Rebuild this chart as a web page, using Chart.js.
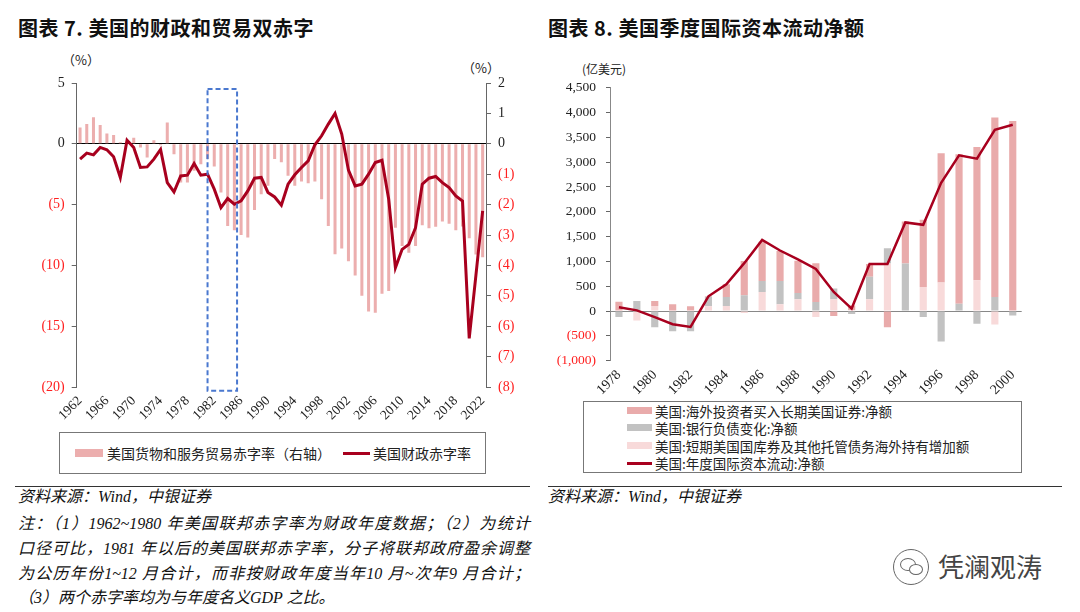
<!DOCTYPE html>
<html><head><meta charset="utf-8">
<script src="https://cdn.jsdelivr.net/npm/chart.js@4.4.1/dist/chart.umd.min.js"></script>
<style>
html,body{margin:0;padding:0;background:#fff;width:1080px;height:612px;overflow:hidden;position:relative;font-family:'Noto Sans CJK SC',sans-serif;color:#111;}
.abs{position:absolute;white-space:nowrap;}
.title{font-size:20px;font-weight:bold;line-height:20px;color:#111;letter-spacing:0.5px;}
.unit{font-size:13px;line-height:14px;color:#222;}
.lbox{position:absolute;border:1px solid #777;box-sizing:border-box;}
.li{position:absolute;white-space:nowrap;font-size:14px;line-height:16px;color:#222;}
.ri{position:absolute;white-space:nowrap;font-size:13.5px;line-height:16px;color:#222;}
.sw{position:absolute;}
.hr{position:absolute;height:1px;background:#333;}
.note{position:absolute;white-space:nowrap;font-size:16px;line-height:18px;font-family:'Liberation Serif','Noto Sans CJK SC',serif;font-style:italic;color:#111;}
.just{text-align:justify;text-align-last:justify;width:512px;}
canvas{position:absolute;}
</style>
</head><body>
<div class="abs title" style="left:18px;top:18px;">图表 7. 美国的财政和贸易双赤字</div>
<div class="abs title" style="left:548px;top:18px;">图表 8. 美国季度国际资本流动净额</div>

<div class="abs unit" style="left:62px;top:53px;">（%）</div>
<div class="abs unit" style="left:462px;top:61px;">（%）</div>
<div class="abs unit" style="left:582px;top:62px;font-size:12px;">(亿美元)</div>

<canvas id="c1" width="540" height="382" style="left:0;top:50px;"></canvas>
<canvas id="c2" width="535" height="350" style="left:545px;top:50px;"></canvas>

<!-- left legend -->
<div class="lbox" style="left:59px;top:432px;width:427px;height:42px;"></div>
<div class="sw" style="left:75px;top:449px;width:28px;height:8px;background:#ecaeae;"></div>
<div class="li" style="left:107px;top:445px;">美国货物和服务贸易赤字率（右轴）</div>
<div class="sw" style="left:343px;top:452px;width:27px;height:3px;background:#a8001e;"></div>
<div class="li" style="left:373px;top:445px;">美国财政赤字率</div>

<!-- right legend -->
<div class="lbox" style="left:583px;top:401px;width:439px;height:72px;"></div>
<div class="sw" style="left:627px;top:407px;width:25px;height:7px;background:#e9abab;"></div>
<div class="ri" style="left:655px;top:403px;">美国:海外投资者买入长期美国证券:净额</div>
<div class="sw" style="left:627px;top:424px;width:25px;height:7px;background:#c2c2c2;"></div>
<div class="ri" style="left:655px;top:420px;">美国:银行负债变化:净额</div>
<div class="sw" style="left:627px;top:442px;width:25px;height:7px;background:#f8dada;"></div>
<div class="ri" style="left:655px;top:438px;">美国:短期美国国库券及其他托管债务海外持有增加额</div>
<div class="sw" style="left:627px;top:462px;width:25px;height:2.5px;background:#a8001e;"></div>
<div class="ri" style="left:655px;top:455px;">美国:年度国际资本流动:净额</div>

<div class="hr" style="left:15px;top:486px;width:515px;"></div>
<div class="hr" style="left:548px;top:486px;width:514px;"></div>

<div class="note" style="left:18px;top:488px;">资料来源：Wind，中银证券</div>
<div class="note" style="left:548px;top:488px;">资料来源：Wind，中银证券</div>
<div class="note just" style="left:18px;top:515px;">注：（1）1962~1980 年美国联邦赤字率为财政年度数据；（2）为统计</div>
<div class="note just" style="left:18px;top:540px;">口径可比，1981 年以后的美国联邦赤字率，分子将联邦政府盈余调整</div>
<div class="note just" style="left:18px;top:565px;">为公历年份1~12 月合计，而非按财政年度当年10 月~次年9 月合计；</div>
<div class="note" style="left:18px;top:589px;">（3）两个赤字率均为与年度名义GDP 之比。</div>

<div class="abs" style="left:893px;top:549px;width:34px;height:34px;border:1.5px solid #666;border-radius:50%;"></div>
<div class="abs" style="left:900px;top:558px;width:14px;height:11px;border:1.5px solid #666;border-radius:50%;"></div>
<div class="abs" style="left:909px;top:564px;width:12px;height:9px;border:1.5px solid #666;border-radius:50%;background:#fff;"></div>
<div class="abs" style="left:938px;top:551px;font-size:26px;line-height:30px;color:#444;">凭澜观涛</div>

<script>
// ---------- Figure 7 data ----------
const yearsL = ['1962','1963','1964','1965','1966','1967','1968','1969','1970','1971','1972','1973','1974','1975','1976','1977','1978','1979','1980','1981','1982','1983','1984','1985','1986','1987','1988','1989','1990','1991','1992','1993','1994','1995','1996','1997','1998','1999','2000','2001','2002','2003','2004','2005','2006','2007','2008','2009','2010','2011','2012','2013','2014','2015','2016','2017','2018','2019','2020','2021','2022'];
const fiscalDeficit = [-1.26,-0.77,-0.91,-0.30,-0.49,-1.07,-2.77,0.30,-0.30,-1.95,-1.90,-1.26,-0.47,-3.19,-3.96,-2.64,-2.58,-1.62,-2.58,-2.50,-3.73,-5.25,-4.50,-4.97,-4.70,-3.87,-2.83,-2.77,-4.00,-4.37,-5.05,-3.32,-2.55,-1.95,-1.40,-0.08,0.66,1.62,2.50,0.80,-2.17,-3.46,-3.32,-2.50,-1.54,-1.35,-4.56,-10.2,-8.68,-8.27,-6.90,-3.32,-2.83,-2.69,-3.19,-3.60,-4.28,-4.70,-16.0,-10.8,-5.52];
const tradeDeficit = [0.54,0.65,0.87,0.62,0.34,0.29,0.05,0.05,0.20,-0.12,-0.45,0.12,-0.05,0.70,-0.34,-1.27,-1.27,-0.89,-0.67,-0.50,-0.75,-1.60,-2.70,-2.84,-3.00,-3.08,-2.18,-1.66,-1.38,-0.50,-0.61,-1.05,-1.38,-1.24,-1.30,-1.24,-1.82,-2.70,-3.63,-3.44,-3.86,-4.33,-5.00,-5.52,-5.56,-4.93,-4.84,-2.76,-3.36,-3.58,-3.36,-2.68,-2.78,-2.73,-2.56,-2.63,-2.84,-2.72,-3.11,-3.64,-3.73];
const highlightYears = ['1981','1985'];

// ---------- Figure 8 data ----------
const yearsR = ['1978','1979','1980','1981','1982','1983','1984','1985','1986','1987','1988','1989','1990','1991','1992','1993','1994','1995','1996','1997','1998','1999','2000'];
const longTermSec = [190,0,100,135,95,10,257,690,790,600,650,780,-100,90,257,-324,845,1353,2603,3009,2684,3616,3827];
const bankLiab = [-120,203,-324,-405,-405,190,183,318,223,473,128,183,216,-60,453,304,960,-122,-615,149,-257,284,-88];
const shortTermTsy = [0,-189,103,0,0,97,101,-40,385,135,237,-122,237,20,237,960,0,487,575,0,622,-270,0];
const netFlow = [75,14,-122,-265,-320,297,541,965,1433,1220,1040,850,385,50,946,946,1785,1738,2584,3138,3071,3651,3753];

const RED = '#a8001e';
const NEG = '#ff2020';
const serif = 'Liberation Serif';

const paren = (v, comma) => {
  const a = Math.abs(v);
  const s = comma ? a.toLocaleString('en-US') : String(a);
  return v < 0 ? '(' + s + ')' : s;
};

const boxPlugin = {
  id: 'hlbox',
  afterDraw(chart) {
    const {ctx, scales: {x, y}} = chart;
    const step = x.getPixelForValue(1) - x.getPixelForValue(0);
    const l = x.getPixelForValue(yearsL.indexOf(highlightYears[0]));
    const r = x.getPixelForValue(yearsL.indexOf(highlightYears[1])) + 0.4 * step;
    const t = y.getPixelForValue(4.5);
    const b = y.getPixelForValue(-20.3);
    ctx.save();
    ctx.strokeStyle = '#4a78cf';
    ctx.lineWidth = 2;
    ctx.setLineDash([5, 3]);
    ctx.strokeRect(l, t, r - l, b - t);
    ctx.restore();
  }
};

new Chart(document.getElementById('c1'), {
  type: 'bar',
  data: {
    labels: yearsL,
    datasets: [
      {type: 'line', label: '美国财政赤字率', data: fiscalDeficit, yAxisID: 'y',
       borderColor: RED, borderWidth: 3, pointRadius: 0, tension: 0, order: 0},
      {type: 'bar', label: '美国货物和服务贸易赤字率（右轴）', data: tradeDeficit, yAxisID: 'y1',
       backgroundColor: '#ecaeae', categoryPercentage: 1, barPercentage: 0.45, order: 1}
    ]
  },
  options: {
    responsive: false, animation: false, devicePixelRatio: 1,
    layout: {padding: {top: 33, left: 0, right: 0, bottom: 0}},
    plugins: {legend: {display: false}, tooltip: {enabled: false}},
    scales: {
      x: {
        offset: true,
        grid: {display: false, drawTicks: false},
        border: {display: false},
        ticks: {autoSkip: false, maxRotation: 45, minRotation: 45, padding: 6,
                font: {family: serif, size: 13.5}, color: '#222',
                callback: (v, i) => (i % 4 === 0 ? yearsL[i] : '')},
        afterFit: s => { s.height = 45; }
      },
      y: {
        position: 'left', min: -20, max: 5,
        ticks: {stepSize: 5, padding: 7, font: {family: serif, size: 14},
                color: c => (c.tick.value < 0 ? NEG : '#222'),
                callback: v => paren(v)},
        grid: {drawOnChartArea: true, tickLength: 5, tickColor: '#666',
               color: c => (c.tick && c.tick.value === 0 ? '#000' : 'rgba(0,0,0,0)')},
        border: {display: true, color: '#666'},
        afterFit: s => { s.width = 76.7; }
      },
      y1: {
        position: 'right', min: -8, max: 2,
        ticks: {stepSize: 1, padding: 7, font: {family: serif, size: 14},
                color: c => (c.tick.value < 0 ? NEG : '#222'),
                callback: v => paren(v)},
        grid: {drawOnChartArea: false, tickLength: 5, tickColor: '#666'},
        border: {display: true, color: '#666'},
        afterFit: s => { s.width = 54; }
      }
    }
  },
  plugins: [boxPlugin]
});

new Chart(document.getElementById('c2'), {
  type: 'bar',
  data: {
    labels: yearsR,
    datasets: [
      {type: 'line', label: '美国:年度国际资本流动:净额', data: netFlow,
       borderColor: RED, borderWidth: 2.5, pointRadius: 0, tension: 0, order: 0},
      {label: '美国:短期美国国库券及其他托管债务海外持有增加额', data: shortTermTsy,
       backgroundColor: '#f8dada', categoryPercentage: 1, barPercentage: 0.4, order: 1},
      {label: '美国:银行负债变化:净额', data: bankLiab,
       backgroundColor: '#c2c2c2', categoryPercentage: 1, barPercentage: 0.4, order: 1},
      {label: '美国:海外投资者买入长期美国证券:净额', data: longTermSec,
       backgroundColor: '#e9abab', categoryPercentage: 1, barPercentage: 0.4, order: 1}
    ]
  },
  options: {
    responsive: false, animation: false, devicePixelRatio: 1,
    layout: {padding: {top: 37.7, left: 0, right: 58.3, bottom: 0}},
    plugins: {legend: {display: false}, tooltip: {enabled: false}},
    scales: {
      x: {
        stacked: true, offset: true,
        grid: {display: false, drawTicks: false},
        border: {display: false},
        ticks: {autoSkip: false, maxRotation: 45, minRotation: 45, padding: 6,
                font: {family: serif, size: 14}, color: '#222',
                callback: (v, i) => (i % 2 === 0 ? yearsR[i] : '')},
        afterFit: s => { s.height = 39.3; }
      },
      y: {
        stacked: true, min: -1000, max: 4500,
        ticks: {stepSize: 500, padding: 10, font: {family: serif, size: 13.5},
                color: c => (c.tick.value < 0 ? NEG : '#222'),
                callback: v => paren(v, true)},
        grid: {drawOnChartArea: true, tickLength: 4, tickColor: '#666',
               color: c => (c.tick && c.tick.value === 0 ? '#888' : 'rgba(0,0,0,0)')},
        border: {display: true, color: '#888'},
        afterFit: s => { s.width = 65; }
      }
    }
  }
});
</script>
</body></html>
